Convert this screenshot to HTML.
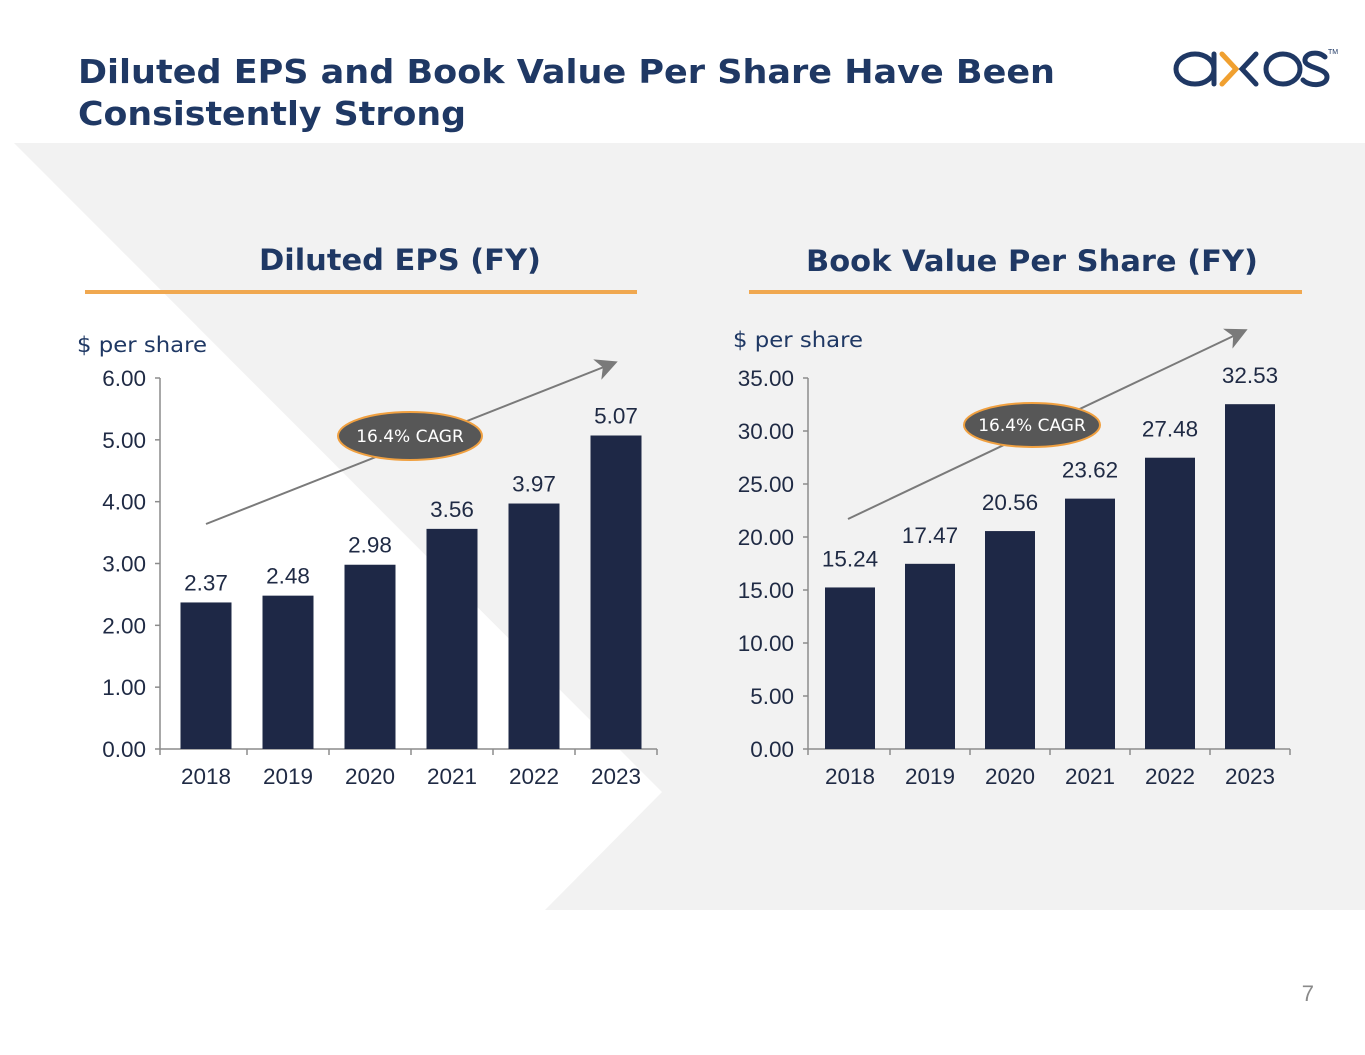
<!DOCTYPE html>
<html><head><meta charset="utf-8">
<style>
html,body{margin:0;padding:0;background:#fff;}
svg{display:block;}
.t{font-family:"DejaVu Sans","Liberation Sans",sans-serif;font-weight:bold;fill:#1F3864;}
.ax{font-family:"Liberation Sans",Arial,sans-serif;font-size:22.5px;fill:#1F2A44;}
.ps{font-family:"DejaVu Sans","Liberation Sans",sans-serif;font-size:21px;fill:#1F3864;}
</style></head>
<body>
<svg id="s" width="1365" height="1055" viewBox="0 0 1365 1055" xmlns="http://www.w3.org/2000/svg">
<defs>
<marker id="ah" markerWidth="22" markerHeight="22" refX="18" refY="11" orient="auto" markerUnits="userSpaceOnUse" viewBox="0 0 22 22">
<path d="M0,0 L22,11 L0,22 L6,11 Z" fill="#7a7a7a"/>
</marker>
</defs>
<polygon points="14,143 1365,143 1365,910 545,910 662,792" fill="#F2F2F2"/>
<text class="t" x="78" y="83" font-size="33" textLength="977" lengthAdjust="spacingAndGlyphs">Diluted EPS and Book Value Per Share Have Been</text>
<text class="t" x="78" y="125" font-size="33" textLength="388" lengthAdjust="spacingAndGlyphs">Consistently Strong</text>
<g fill="none" stroke-width="5" stroke-linecap="round">
<ellipse cx="1195" cy="69" rx="19" ry="15" stroke="#1F3864"/>
<line x1="1214" y1="54" x2="1214" y2="84" stroke="#1F3864"/>
<polyline points="1222,54 1236,69 1222,84" stroke="#F0A030"/>
<polyline points="1256,54 1242,69 1256,84" stroke="#1F3864"/>
<ellipse cx="1283" cy="69" rx="17" ry="15" stroke="#1F3864"/>
<path d="M1325,57 C1318,50 1304,53 1305,61 C1306,68 1327,68 1327,77 C1327,86 1310,87 1303,80" stroke="#1F3864"/>
<text x="1328" y="54" font-size="7" fill="#1F3864" stroke="none" font-family="Liberation Sans,sans-serif">TM</text>
</g>
<text class="t" x="400" y="270" font-size="29" text-anchor="middle" textLength="282" lengthAdjust="spacingAndGlyphs">Diluted EPS (FY)</text>
<line x1="85" y1="292" x2="637" y2="292" stroke="#F0A850" stroke-width="4"/>
<text class="t" x="1032" y="271" font-size="29" text-anchor="middle" textLength="452" lengthAdjust="spacingAndGlyphs">Book Value Per Share (FY)</text>
<line x1="749" y1="292" x2="1302" y2="292" stroke="#F0A850" stroke-width="4"/>
<text class="ps" x="77" y="352" textLength="130" lengthAdjust="spacingAndGlyphs">$ per share</text>
<text class="ps" x="733" y="347" textLength="130" lengthAdjust="spacingAndGlyphs">$ per share</text>
<g id="eps"></g>
<g id="bvps"></g>
<text x="1314" y="1001" font-family="Liberation Sans,sans-serif" font-size="22" fill="#8a8a8a" text-anchor="end">7</text>
</svg>
<script>
const years = ["2018","2019","2020","2021","2022","2023"];
const epsValues = [2.37, 2.48, 2.98, 3.56, 3.97, 5.07];
const epsTicks = [0,1,2,3,4,5,6];
const bvpsValues = [15.24, 17.47, 20.56, 23.62, 27.48, 32.53];
const bvpsTicks = [0,5,10,15,20,25,30,35];
const cagrLabels = ["16.4% CAGR","16.4% CAGR"];

const NS="http://www.w3.org/2000/svg";
function mk(parent, tag, attrs, text){
  const e=document.createElementNS(NS,tag);
  for(const k in attrs) e.setAttribute(k, attrs[k]);
  if(text!==undefined) e.textContent=text;
  parent.appendChild(e); return e;
}
function drawChart(gid, cfg){
  const g=document.getElementById(gid);
  const y=v=>cfg.y0-(v-cfg.min)/(cfg.max-cfg.min)*(cfg.y0-cfg.yTop);
  const band=(cfg.xEnd-cfg.x0)/years.length;
  const x=i=>cfg.x0+band*(i+0.5);
  const axis=mk(g,'line',{x1:cfg.ax,y1:cfg.yTop,x2:cfg.ax,y2:cfg.y0,stroke:'#8c8c8c','stroke-width':1.5});
  
  
  const xa=mk(g,'line',{x1:cfg.ax,y1:cfg.y0,x2:cfg.xEnd,y2:cfg.y0,stroke:'#8c8c8c','stroke-width':1.5});
  
  
  cfg.ticks.forEach(t=>{
    const tk=mk(g,'line',{x1:cfg.ax-5,y1:y(t),x2:cfg.ax,y2:y(t),stroke:'#8c8c8c','stroke-width':1.5});
    
    
    const tl=mk(g,'text',{x:cfg.ax-14,y:y(t)+8,'text-anchor':'end','class':'ax'},t.toFixed(2));
    
    
  });
  for(let i=0;i<=years.length;i++){
    const xx=i===0?cfg.ax:cfg.x0+band*i;
    const tk=mk(g,'line',{x1:xx,y1:cfg.y0,x2:xx,y2:cfg.y0+6,stroke:'#8c8c8c','stroke-width':1.5});
    
    
  }
  cfg.values.forEach((v,i)=>{
    const b=mk(g,'rect',{x:x(i)-cfg.bw/2,y:y(v),width:cfg.bw,height:cfg.y0-y(v),fill:'#1E2846'});
    
    
    const l=mk(g,'text',{x:x(i),y:y(v)-cfg.gap,'text-anchor':'middle','class':'ax'},v.toFixed(2));
    
    
    const c=mk(g,'text',{x:x(i),y:cfg.y0+35,'text-anchor':'middle','class':'ax'},years[i]);
    
    
  });
  const ar=mk(g,'line',{x1:cfg.arrow[0],y1:cfg.arrow[1],x2:cfg.arrow[2],y2:cfg.arrow[3],stroke:'#7a7a7a','stroke-width':2,'marker-end':'url(#ah)'});
  
  
  const el=mk(g,'ellipse',{cx:cfg.ell[0],cy:cfg.ell[1],rx:cfg.ell[2],ry:cfg.ell[3],fill:'#575757',stroke:'#F0A040','stroke-width':2});
  
  
  const et=mk(g,'text',{x:cfg.ell[0],y:cfg.ell[1]+6,'text-anchor':'middle','font-family':'DejaVu Sans, Liberation Sans, sans-serif','font-size':17,fill:'#fff'},cfg.label);
  
  
}
drawChart('eps',{name:'eps',values:epsValues,ticks:epsTicks,min:0,max:6,ax:160,x0:165,xEnd:657,y0:749,yTop:378,bw:51,gap:12,
  arrow:[206,524,614,363],ell:[410,436,72,24],label:cagrLabels[0]});
drawChart('bvps',{name:'bvps',values:bvpsValues,ticks:bvpsTicks,min:0,max:35,ax:808,x0:810,xEnd:1290,y0:749,yTop:378,bw:50,gap:21,
  arrow:[848,519,1244,331],ell:[1032,425,68,22],label:cagrLabels[1]});
</script>
</body></html>
